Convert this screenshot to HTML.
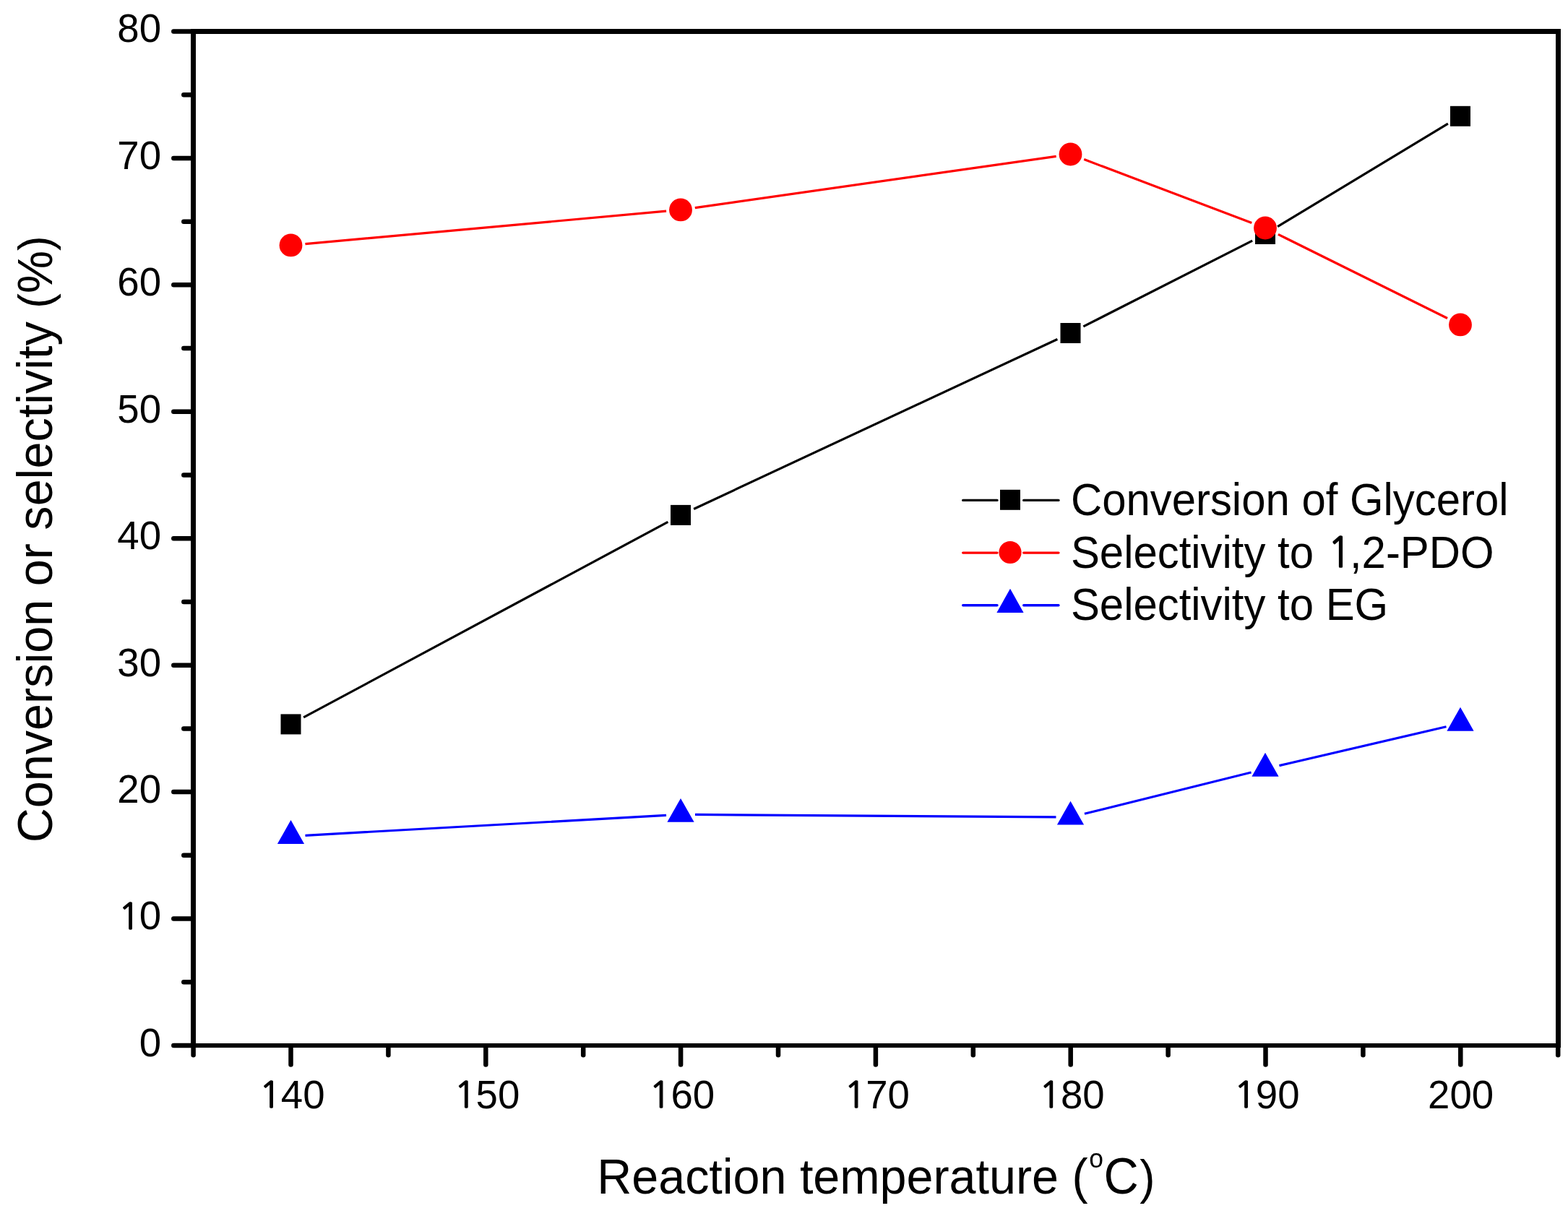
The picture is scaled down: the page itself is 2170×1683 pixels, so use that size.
<!DOCTYPE html><html><head><meta charset="utf-8"><title>Conversion and selectivity vs reaction temperature</title>
<style>html,body{margin:0;padding:0;background:#fff;overflow:hidden}svg{display:block}text{font-family:"Liberation Sans",Arial,sans-serif;fill:#000}</style></head><body>
<svg width="2170" height="1683" viewBox="0 0 2170 1683">
<rect x="0" y="0" width="2170" height="1683" fill="#fff"/>
<g stroke="#000" fill="none">
<line x1="264" y1="43.5" x2="2160" y2="43.5" stroke-width="7"/>
<line x1="264" y1="1447" x2="2160" y2="1447" stroke-width="6"/>
<line x1="267.5" y1="40" x2="267.5" y2="1450" stroke-width="7"/>
<line x1="2156.5" y1="40" x2="2156.5" y2="1450" stroke-width="7"/>
</g>
<g stroke="#000" stroke-width="6.5" stroke-linecap="round" fill="none">
<line x1="240.3" y1="1447.00" x2="266" y2="1447.00"/>
<line x1="240.3" y1="1271.56" x2="266" y2="1271.56"/>
<line x1="240.3" y1="1096.12" x2="266" y2="1096.12"/>
<line x1="240.3" y1="920.68" x2="266" y2="920.68"/>
<line x1="240.3" y1="745.24" x2="266" y2="745.24"/>
<line x1="240.3" y1="569.80" x2="266" y2="569.80"/>
<line x1="240.3" y1="394.36" x2="266" y2="394.36"/>
<line x1="240.3" y1="218.92" x2="266" y2="218.92"/>
<line x1="240.3" y1="43.48" x2="266" y2="43.48"/>
<line x1="254.3" y1="1359.28" x2="266" y2="1359.28"/>
<line x1="254.3" y1="1183.84" x2="266" y2="1183.84"/>
<line x1="254.3" y1="1008.40" x2="266" y2="1008.40"/>
<line x1="254.3" y1="832.96" x2="266" y2="832.96"/>
<line x1="254.3" y1="657.52" x2="266" y2="657.52"/>
<line x1="254.3" y1="482.08" x2="266" y2="482.08"/>
<line x1="254.3" y1="306.64" x2="266" y2="306.64"/>
<line x1="254.3" y1="131.20" x2="266" y2="131.20"/>
<line x1="402.50" y1="1448" x2="402.50" y2="1473.5"/>
<line x1="672.30" y1="1448" x2="672.30" y2="1473.5"/>
<line x1="942.10" y1="1448" x2="942.10" y2="1473.5"/>
<line x1="1211.90" y1="1448" x2="1211.90" y2="1473.5"/>
<line x1="1481.70" y1="1448" x2="1481.70" y2="1473.5"/>
<line x1="1751.50" y1="1448" x2="1751.50" y2="1473.5"/>
<line x1="2021.30" y1="1448" x2="2021.30" y2="1473.5"/>
<line x1="267.60" y1="1448" x2="267.60" y2="1460.3"/>
<line x1="537.40" y1="1448" x2="537.40" y2="1460.3"/>
<line x1="807.20" y1="1448" x2="807.20" y2="1460.3"/>
<line x1="1077.00" y1="1448" x2="1077.00" y2="1460.3"/>
<line x1="1346.80" y1="1448" x2="1346.80" y2="1460.3"/>
<line x1="1616.60" y1="1448" x2="1616.60" y2="1460.3"/>
<line x1="1886.40" y1="1448" x2="1886.40" y2="1460.3"/>
<line x1="2156.20" y1="1448" x2="2156.20" y2="1460.3"/>
</g>
<g font-size="54.6">
<text x="223.1" y="1461.90" text-anchor="end">0</text>
<text x="162.37" y="1286.46"><tspan style="font-family:NanumGothic,'Liberation Sans',sans-serif" font-size="51" stroke="#000" stroke-width="1.3" dx="1.16">1</tspan><tspan dx="-1.71">0</tspan></text>
<text x="223.1" y="1111.02" text-anchor="end">20</text>
<text x="223.1" y="935.58" text-anchor="end">30</text>
<text x="223.1" y="760.14" text-anchor="end">40</text>
<text x="223.1" y="584.70" text-anchor="end">50</text>
<text x="223.1" y="409.26" text-anchor="end">60</text>
<text x="223.1" y="233.82" text-anchor="end">70</text>
<text x="223.1" y="58.38" text-anchor="end">80</text>
<text x="358.45" y="1533.5"><tspan style="font-family:NanumGothic,'Liberation Sans',sans-serif" font-size="51" stroke="#000" stroke-width="1.3" dx="0.03" dy="-0.7">1</tspan><tspan dx="-0.58" dy="0.7">40</tspan></text>
<text x="628.25" y="1533.5"><tspan style="font-family:NanumGothic,'Liberation Sans',sans-serif" font-size="51" stroke="#000" stroke-width="1.3" dx="0.03" dy="-0.7">1</tspan><tspan dx="-0.58" dy="0.7">50</tspan></text>
<text x="898.05" y="1533.5"><tspan style="font-family:NanumGothic,'Liberation Sans',sans-serif" font-size="51" stroke="#000" stroke-width="1.3" dx="0.03" dy="-0.7">1</tspan><tspan dx="-0.58" dy="0.7">60</tspan></text>
<text x="1167.85" y="1533.5"><tspan style="font-family:NanumGothic,'Liberation Sans',sans-serif" font-size="51" stroke="#000" stroke-width="1.3" dx="0.03" dy="-0.7">1</tspan><tspan dx="-0.58" dy="0.7">70</tspan></text>
<text x="1437.65" y="1533.5"><tspan style="font-family:NanumGothic,'Liberation Sans',sans-serif" font-size="51" stroke="#000" stroke-width="1.3" dx="0.03" dy="-0.7">1</tspan><tspan dx="-0.58" dy="0.7">80</tspan></text>
<text x="1707.45" y="1533.5"><tspan style="font-family:NanumGothic,'Liberation Sans',sans-serif" font-size="51" stroke="#000" stroke-width="1.3" dx="0.03" dy="-0.7">1</tspan><tspan dx="-0.58" dy="0.7">90</tspan></text>
<text x="2021.60" y="1533.5" text-anchor="middle">200</text>
</g>
<text transform="translate(72.2,1166.2) rotate(-90) scale(1,1.045)" font-size="66.3" textLength="840" lengthAdjust="spacingAndGlyphs">Conversion or selectivity <tspan font-size="62" dy="-1">(</tspan><tspan dy="1">%</tspan><tspan font-size="62" dy="-1">)</tspan></text>
<text transform="scale(1,1.04)" font-size="66.41"><tspan x="826.35" y="1588.46">Reaction temperature (</tspan><tspan x="1507.3" y="1554.04" font-size="35.5">o</tspan><tspan x="1527.4" y="1588.75" font-size="66.8">C</tspan><tspan x="1577.2" y="1588.65" font-size="63.6">)</tspan></text>
<path d="M420.12 992.94L924.38 722.36M960.12 704.44L1463.38 469.46M1499.33 451.94L1733.17 333.06M1768.12 313.65L2003.88 171.15" stroke="#000" stroke-width="3.2" fill="none"/>
<rect x="388.50" y="988.40" width="28" height="28" fill="#000"/>
<rect x="928.00" y="698.90" width="28" height="28" fill="#000"/>
<rect x="1467.50" y="447.00" width="28" height="28" fill="#000"/>
<rect x="1737.00" y="310.00" width="28" height="28" fill="#000"/>
<rect x="2007.00" y="146.80" width="28" height="28" fill="#000"/>
<path d="M422.42 337.59L922.08 292.21M961.80 287.58L1461.70 216.32M1500.21 220.58L1732.29 308.42M1768.92 324.39L2003.08 440.51" stroke="#f00" stroke-width="3.2" fill="none"/>
<circle cx="402.50" cy="339.40" r="15.9" fill="#f00"/>
<circle cx="942.00" cy="290.40" r="15.9" fill="#f00"/>
<circle cx="1481.50" cy="213.50" r="15.9" fill="#f00"/>
<circle cx="1751.00" cy="315.50" r="15.9" fill="#f00"/>
<circle cx="2021.00" cy="449.40" r="15.9" fill="#f00"/>
<path d="M422.47 1156.29L922.03 1128.41M962.00 1127.44L1461.50 1130.96M1500.91 1126.28L1731.59 1069.02M1770.48 1059.66L2001.52 1005.74" stroke="#00f" stroke-width="3.2" fill="none"/>
<path d="M402.50 1135.00L421.10 1167.90L383.90 1167.90Z" fill="#00f"/>
<path d="M942.00 1104.90L960.60 1137.80L923.40 1137.80Z" fill="#00f"/>
<path d="M1481.50 1108.70L1500.10 1141.60L1462.90 1141.60Z" fill="#00f"/>
<path d="M1751.00 1041.80L1769.60 1074.70L1732.40 1074.70Z" fill="#00f"/>
<path d="M2021.00 978.80L2039.60 1011.70L2002.40 1011.70Z" fill="#00f"/>
<path d="M1332.7 692.4H1380M1416.7 692.4H1465" stroke="#000" stroke-width="3.4" stroke-linecap="round" fill="none"/>
<rect x="1384.00" y="677.80" width="28" height="28" fill="#000"/>
<text transform="translate(1481.9,713.0) scale(1,1.055)" font-size="59.9">Conversion of Glycerol</text>
<path d="M1332.7 765.1H1380M1416.7 765.1H1465" stroke="#f00" stroke-width="3.4" stroke-linecap="round" fill="none"/>
<circle cx="1398.00" cy="764.50" r="15.6" fill="#f00"/>
<text transform="translate(1481.9,785.9) scale(1,1.055)" font-size="59.9">Selectivity to <tspan style="font-family:NanumGothic,'Liberation Sans',sans-serif" font-size="53.8" stroke="#000" stroke-width="1.49" dx="2.85" dy="-1">1</tspan><tspan dx="-2.16" dy="1">,2-PDO</tspan></text>
<path d="M1332.7 837.8H1380M1416.7 837.8H1465" stroke="#00f" stroke-width="3.4" stroke-linecap="round" fill="none"/>
<path d="M1398.00 814.70L1416.60 848.00L1379.40 848.00Z" fill="#00f"/>
<text transform="translate(1481.9,858.3) scale(1,1.055)" font-size="59.9">Selectivity to EG</text>
</svg></body></html>
